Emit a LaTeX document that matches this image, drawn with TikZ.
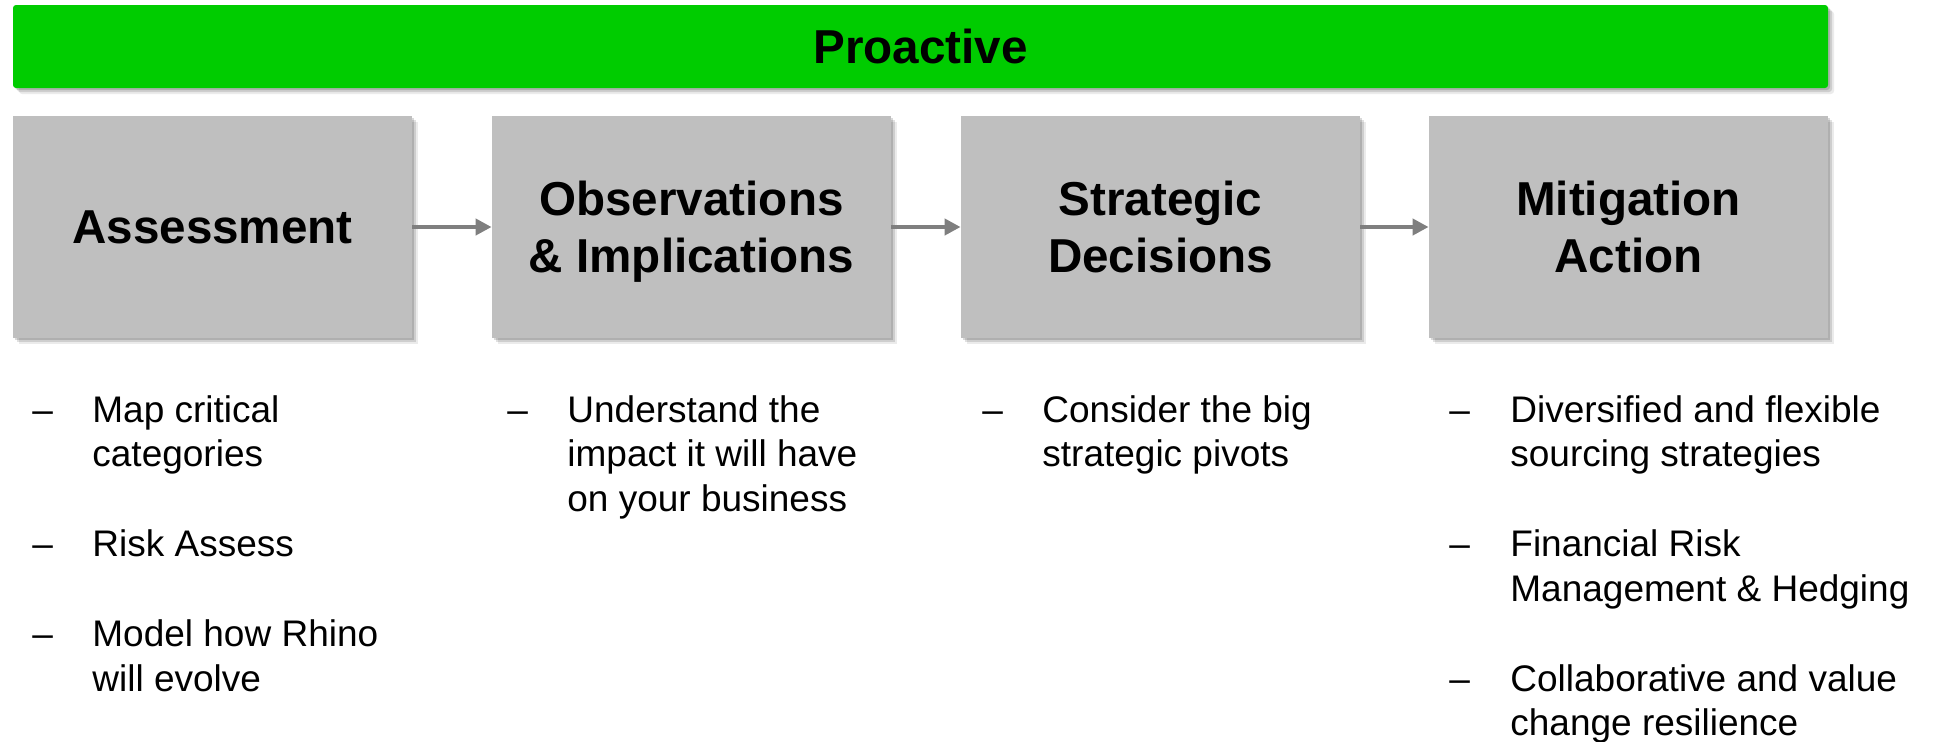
\documentclass[tikz,border=0pt]{standalone}
\usepackage{fontspec}
\setmainfont{Liberation Sans}
\usepackage{tikz}
\usetikzlibrary{arrows.meta,shadows}
\definecolor{ink}{HTML}{000000}
\definecolor{cgreen}{HTML}{00CC00}
\definecolor{cbox}{HTML}{BFBFBF}
\definecolor{carrow}{HTML}{7F7F7F}

\begin{document}
\begin{tikzpicture}[x=0.5pt,y=-0.5pt,
  ttl/.style={font=\bfseries\fontsize{23.8}{28.3}\selectfont,text=ink,align=center,inner sep=0pt},
  soft/.style={drop shadow={shadow xshift=3pt,shadow yshift=-3pt,fill=black,opacity=0.08},
               drop shadow={shadow xshift=2pt,shadow yshift=-2pt,fill=black,opacity=0.12},
               drop shadow={shadow xshift=1pt,shadow yshift=-1pt,fill=black,opacity=0.15}},
  banner/.style={ttl,soft,fill=cgreen,rounded corners=1.5pt,minimum width=907.5pt,minimum height=41.5pt},
  stage/.style={ttl,soft,fill=cbox,minimum width=199.5pt,minimum height=111pt},
  link/.style={draw=carrow,line width=2pt,-{Triangle[length=8pt,width=8pt]}},
  dsh/.style={font=\fontsize{18.5}{22.25}\selectfont,text=ink,anchor=base west,inner sep=0pt},
  point/.style={dsh,align=left}]
\useasboundingbox (0,0) rectangle (1939,741);
\node[banner] (proactive) at (920.5,46.5) {Proactive};
\node[stage] (assess) at (212.5,227) {Assessment};
\node[stage] (observe) at (691.5,227) {Observations\\\smash{\& Implications}};
\node[stage] (decide) at (1160.5,227) {Strategic\\Decisions};
\node[stage] (mitigate) at (1628.5,227) {Mitigation\\Action};
\draw[link] (assess) -- (observe);
\draw[link] (observe) -- (decide);
\draw[link] (decide) -- (mitigate);
\node[dsh] (da1) at (32,422) {–};
\node[point] (ta1) at (92,466.5) {Map critical\\categories};
\node[dsh] (da2) at (32,556.5) {–};
\node[point] (ta2) at (92,556.5) {Risk Assess};
\node[dsh] (da3) at (32,646.5) {–};
\node[point] (ta3) at (92,691) {Model how Rhino\\will evolve};
\node[dsh] (db1) at (507,422) {–};
\node[point] (tb1) at (567,511) {Understand the\\impact it will have\\on your business};
\node[dsh] (dc1) at (982,422) {–};
\node[point] (tc1) at (1042,466.5) {Consider the big\\strategic pivots};
\node[dsh] (dd1) at (1449,422) {–};
\node[point] (td1) at (1510,466.5) {Diversified and flexible\\sourcing strategies};
\node[dsh] (dd2) at (1449,556.5) {–};
\node[point] (td2) at (1510,601) {Financial Risk\\Management \& Hedging};
\node[dsh] (dd3) at (1449,691) {–};
\node[point] (td3) at (1510,735.5) {Collaborative and value\\change resilience};
\end{tikzpicture}
\end{document}
